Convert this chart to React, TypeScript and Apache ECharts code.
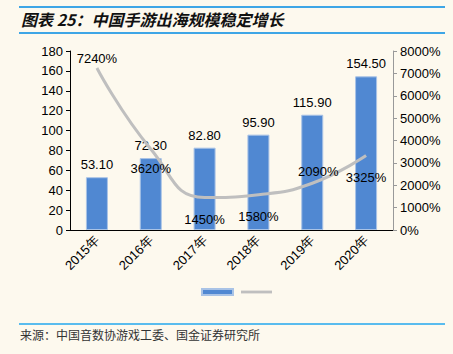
import React, { useEffect, useRef } from "react";
import * as echarts from "echarts";

const categories = ["2015年", "2016年", "2017年", "2018年", "2019年", "2020年"];
const scaleValues = [53.1, 72.3, 82.8, 95.9, 115.9, 154.5];
const growthValues = [7240, 3620, 1450, 1580, 2090, 3325];
const leftTicks = { min: 0, max: 180, interval: 20 };
const rightTicks = { min: 0, max: 8000, interval: 1000 };

const growthLabelPos = ["top", "bottom", "bottom", "bottom", "top", "bottom"];
const growthLabelOffset: [number, number][] = [[0, 2], [0, 8], [0, 10], [0, 10], [6, 0], [0, 10]];

export default function App() {
  const ref = useRef<HTMLDivElement>(null);
  useEffect(() => {
    document.body.style.margin = "0";
    const chart = echarts.init(ref.current!, null, { renderer: "svg" });
    const font = "Liberation Sans, Arial, sans-serif";
    chart.setOption({
      animation: false,
      backgroundColor: "#fdf9ee",
      textStyle: { fontFamily: font },
      graphic: [
        { type: "line", shape: { x1: 19, y1: 7, x2: 445, y2: 7 }, style: { stroke: "#3ea6e6", lineWidth: 2 } },
        { type: "line", shape: { x1: 19, y1: 33, x2: 445, y2: 33 }, style: { stroke: "#3ea6e6", lineWidth: 2 } },
        {
          type: "text", x: 21, y: 19,
          style: { text: "图表 25：中国手游出海规模稳定增长", fill: "#111", font: "italic bold 16px 'Noto Sans CJK SC'", textVerticalAlign: "middle" },
        },
        { type: "line", shape: { x1: 19, y1: 324, x2: 445, y2: 324 }, style: { stroke: "#22a7ee", lineWidth: 1.5 } },
        {
          type: "text", x: 20, y: 334,
          style: { text: "来源：中国音数协游戏工委、国金证券研究所", fill: "#333", font: "12px 'Noto Sans CJK SC'", textVerticalAlign: "middle" },
        },
      ],
      grid: { left: 70, right: 60, top: 51, bottom: 124 },
      legend: {
        left: 196, top: 283, itemWidth: 31, itemHeight: 6, itemGap: 7,
        formatter: () => "",
        symbolKeepAspect: true,
        data: [
          { name: "规模", icon: "rect" },
          { name: "增速", icon: "path://M0,0L33,0L33,3L0,3Z" },
        ],
      },
      xAxis: {
        type: "category",
        data: categories,
        axisLine: { lineStyle: { color: "#000", width: 1 } },
        axisTick: { length: 4, lineStyle: { color: "#000" } },
        axisLabel: { rotate: 45, color: "#000", fontSize: 13, fontFamily: font, margin: 8 },
      },
      yAxis: [
        {
          type: "value", ...leftTicks,
          axisLine: { show: true, lineStyle: { color: "#000" } },
          axisTick: { show: true, length: 4, lineStyle: { color: "#000" } },
          splitLine: { show: false },
          axisLabel: { color: "#000", fontSize: 13, fontFamily: font, margin: 7 },
        },
        {
          type: "value", ...rightTicks,
          axisLine: { show: true, lineStyle: { color: "#999" } },
          axisTick: { show: true, length: 4, lineStyle: { color: "#999" } },
          splitLine: { show: false },
          axisLabel: { color: "#000", fontSize: 13, fontFamily: font, margin: 7, formatter: (v: number) => v + "%" },
        },
      ],
      series: [
        {
          name: "规模", type: "bar", data: scaleValues, barWidth: 22, yAxisIndex: 0,
          itemStyle: { color: "#5088d2", borderColor: "#a9c3e6", borderWidth: 1 },
          label: { show: true, position: "top", color: "#000", fontSize: 13, fontFamily: font, distance: 6, formatter: (p: any) => p.value.toFixed(2) },
        },
        {
          name: "增速", type: "line", yAxisIndex: 1, smooth: 0.5, symbol: "circle", symbolSize: 0.01, showSymbol: true,
          lineStyle: { color: "#bfbfbf", width: 3 },
          itemStyle: { color: "#bfbfbf" },
          data: growthValues.map((v, i) => ({
            value: v,
            label: { show: true, position: growthLabelPos[i], offset: growthLabelOffset[i] },
          })),
          label: { show: true, color: "#000", fontSize: 13, fontFamily: font, formatter: (p: any) => p.value + "%" },
          z: 3,
        },
      ],
    });
    return () => chart.dispose();
  }, []);
  return <div ref={ref} style={{ width: 453, height: 354 }} />;
}
